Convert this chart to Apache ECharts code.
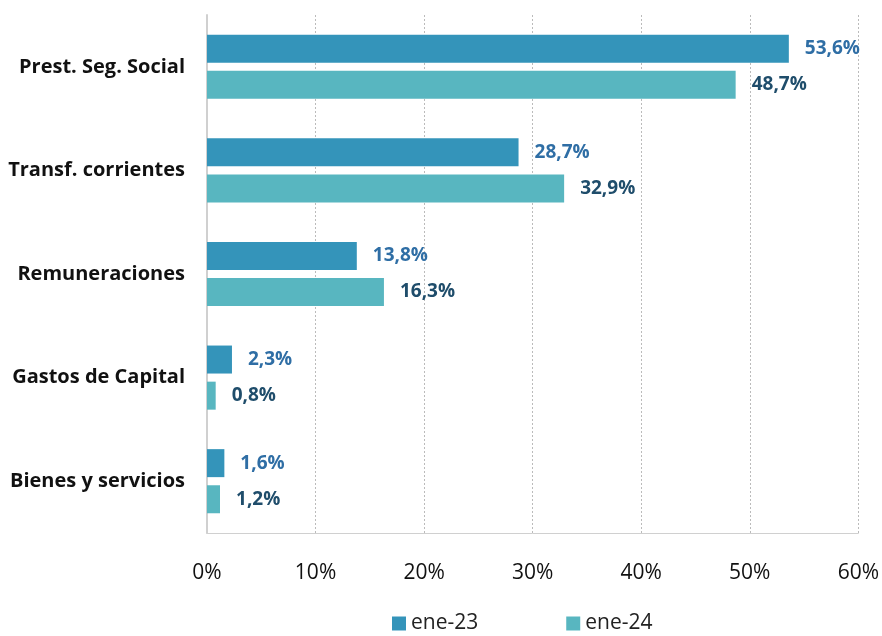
<!DOCTYPE html>
<html>
<head>
<meta charset="utf-8">
<script src="https://cdn.jsdelivr.net/npm/echarts@6/dist/echarts.min.js"></script>
<style>
  html, body { margin: 0; padding: 0; background: #fff; }
  #chart { width: 882px; height: 636px; }
</style>
</head>
<body>
<div id="chart"></div>
<script>
// datos
var categorias = ['Prest. Seg. Social', 'Transf. corrientes', 'Remuneraciones', 'Gastos de Capital', 'Bienes y servicios'];
var ene23 = [53.6, 28.7, 13.8, 2.3, 1.6];
var ene24 = [48.7, 32.9, 16.3, 0.8, 1.2];
var ticksX = [0, 10, 20, 30, 40, 50, 60];

var fmt = function (p) {
  return p.value.toFixed(1).replace('.', ',') + '%';
};

var option = {
  animation: false,
  grid: { left: 207, right: 23, top: 15, bottom: 103 },
  legend: {
    top: 608,
    left: 387,
    itemGap: 88,
    itemWidth: 14,
    itemHeight: 14,
    icon: 'rect',
    textStyle: { fontFamily: 'Open Sans', fontSize: 21, color: '#222' },
    data: ['ene-23', 'ene-24']
  },
  xAxis: {
    type: 'value',
    min: ticksX[0],
    max: ticksX[ticksX.length - 1],
    interval: 10,
    axisLine: { show: true, lineStyle: { color: '#d0d0d0', width: 1 } },
    axisTick: { show: false },
    axisLabel: {
      margin: 30,
      fontFamily: 'Open Sans',
      fontSize: 21,
      color: '#111',
      formatter: '{value}%'
    },
    splitLine: { lineStyle: { color: '#bbb', type: [2, 2], width: 1 } }
  },
  yAxis: {
    type: 'category',
    inverse: true,
    data: categorias,
    axisLine: { show: true, lineStyle: { color: '#d0d0d0', width: 2 } },
    axisTick: { show: false },
    axisLabel: {
      margin: 22,
      fontFamily: 'Open Sans',
      fontWeight: 'bold',
      fontSize: 20,
      color: '#111'
    }
  },
  series: [
    {
      name: 'ene-23',
      type: 'bar',
      data: ene23,
      barWidth: 28,
      barGap: '29%',
      itemStyle: { color: '#3494BA' },
      label: {
        show: true,
        position: 'right',
        distance: 16,
        formatter: fmt,
        fontFamily: 'Open Sans',
        fontWeight: 'bold',
        fontSize: 19,
        color: '#2F6EA5'
      }
    },
    {
      name: 'ene-24',
      type: 'bar',
      data: ene24,
      barWidth: 28,
      itemStyle: { color: '#58B6C0' },
      label: {
        show: true,
        position: 'right',
        distance: 16,
        formatter: fmt,
        fontFamily: 'Open Sans',
        fontWeight: 'bold',
        fontSize: 19,
        color: '#1F4D6B'
      }
    }
  ]
};

var chart = echarts.init(document.getElementById('chart'));
chart.setOption(option);
</script>
</body>
</html>
